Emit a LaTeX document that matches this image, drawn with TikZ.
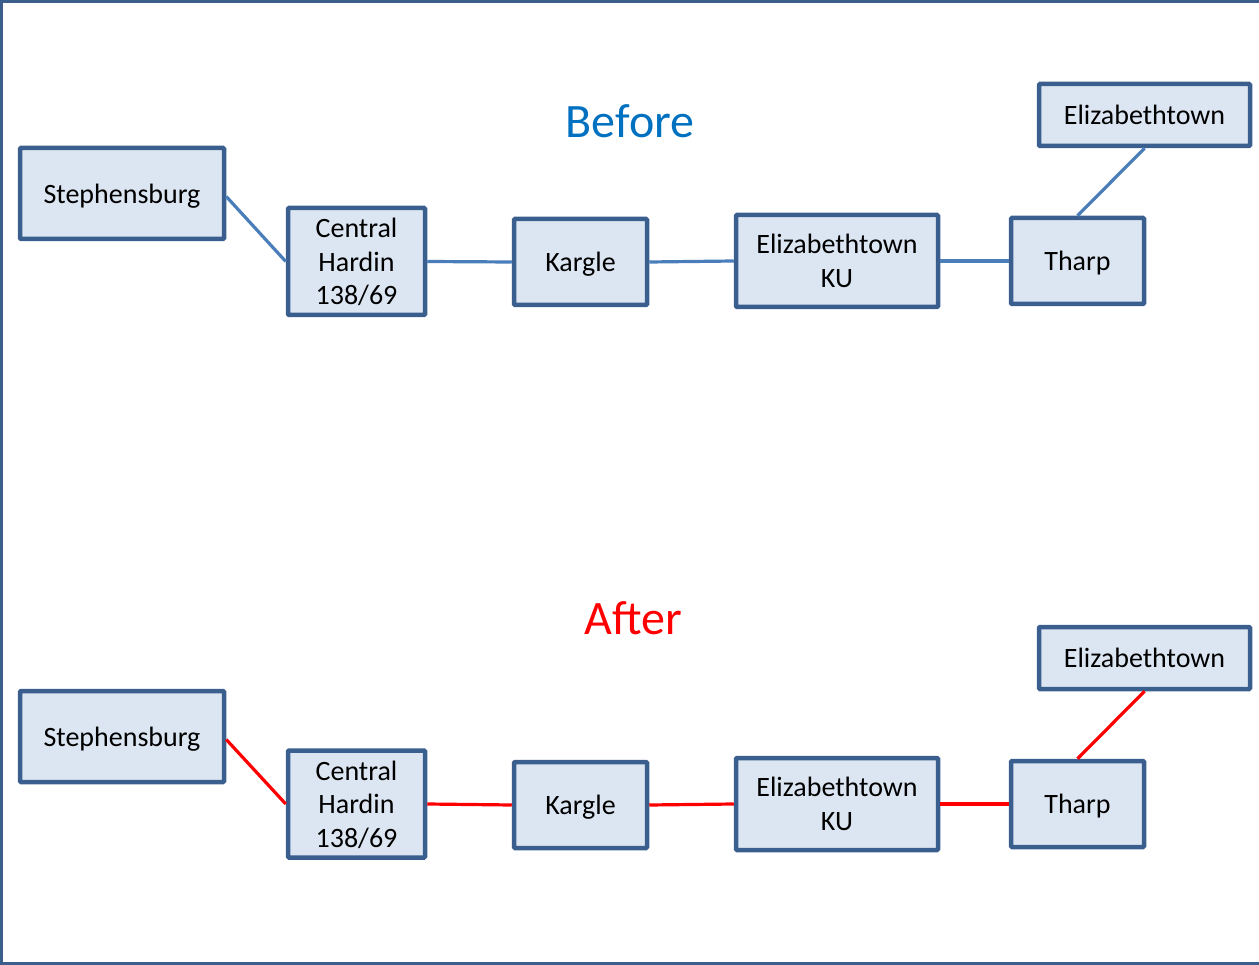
\documentclass[tikz,border=0pt]{standalone}
\usepackage{fontspec}
\setmainfont{Carlito}
\definecolor{boxfill}{HTML}{DCE6F2}
\definecolor{boxedge}{HTML}{3A5F8F}
\definecolor{linkblue}{HTML}{4A7EBB}
\definecolor{titleblue}{HTML}{0070C0}
\definecolor{framecol}{HTML}{3B5E8C}
\begin{document}
\begin{tikzpicture}[x=1pt,y=-1pt,
  stationbox/.style={draw=boxedge,fill=boxfill,line width=4.5pt,rounded corners=1pt,
    inner sep=0pt,align=center,font=\fontsize{28}{33.5}\selectfont,text depth=0pt},
  beforelink/.style={draw=linkblue,line width=3.2pt},
  afterlink/.style={draw=red,line width=3.2pt},
  titletext/.style={font=\fontsize{48}{55}\selectfont,inner sep=0pt}]
\useasboundingbox (0,0) rectangle (1259,965);
\draw[framecol,line width=3pt] (1259,1.5) -- (1.5,1.5) -- (1.5,963.5) -- (1259,963.5);

% Before
\node[titletext,text=titleblue] (tb) at (630,121) {Before};
\node[stationbox,minimum width=204pt,minimum height=91pt] (s1) at (122,193.5) {Stephensburg};
\node[stationbox,minimum width=137pt,minimum height=107pt] (c1) at (356.5,261.5) {Central\\Hardin\\138/69};
\node[stationbox,minimum width=133pt,minimum height=86pt] (k1) at (580.5,262) {Kargle};
\node[stationbox,minimum width=202pt,minimum height=92pt] (e1) at (837,261) {Elizabethtown\\KU};
\node[stationbox,minimum width=133pt,minimum height=86pt] (t1) at (1077.5,261) {Tharp};
\node[stationbox,minimum width=211pt,minimum height=62pt] (z1) at (1144.5,115) {Elizabethtown};
\draw[beforelink] (s1.east) ++(0,3) -- (c1.west);
\draw[beforelink] (c1.east) -- (k1.west);
\draw[beforelink] (k1.east) -- (e1.west);
\draw[beforelink] (e1.east) -- (t1.west);
\draw[beforelink] (t1.north) -- (z1.south);

% After
\node[titletext,text=red] (ta) at (633,618) {After};
\node[stationbox,minimum width=204pt,minimum height=91pt] (s2) at (122,736.5) {Stephensburg};
\node[stationbox,minimum width=137pt,minimum height=107pt] (c2) at (356.5,804) {Central\\Hardin\\138/69};
\node[stationbox,minimum width=133pt,minimum height=86pt] (k2) at (580.5,805) {Kargle};
\node[stationbox,minimum width=202pt,minimum height=92pt] (e2) at (837,804) {Elizabethtown\\KU};
\node[stationbox,minimum width=133pt,minimum height=86pt] (t2) at (1077.5,804) {Tharp};
\node[stationbox,minimum width=211pt,minimum height=62pt] (z2) at (1144.5,658) {Elizabethtown};
\draw[afterlink] (s2.east) ++(0,3) -- (c2.west);
\draw[afterlink] (c2.east) -- (k2.west);
\draw[afterlink] (k2.east) -- (e2.west);
\draw[afterlink] (e2.east) -- (t2.west);
\draw[afterlink] (t2.north) -- (z2.south);
\end{tikzpicture}
\end{document}
